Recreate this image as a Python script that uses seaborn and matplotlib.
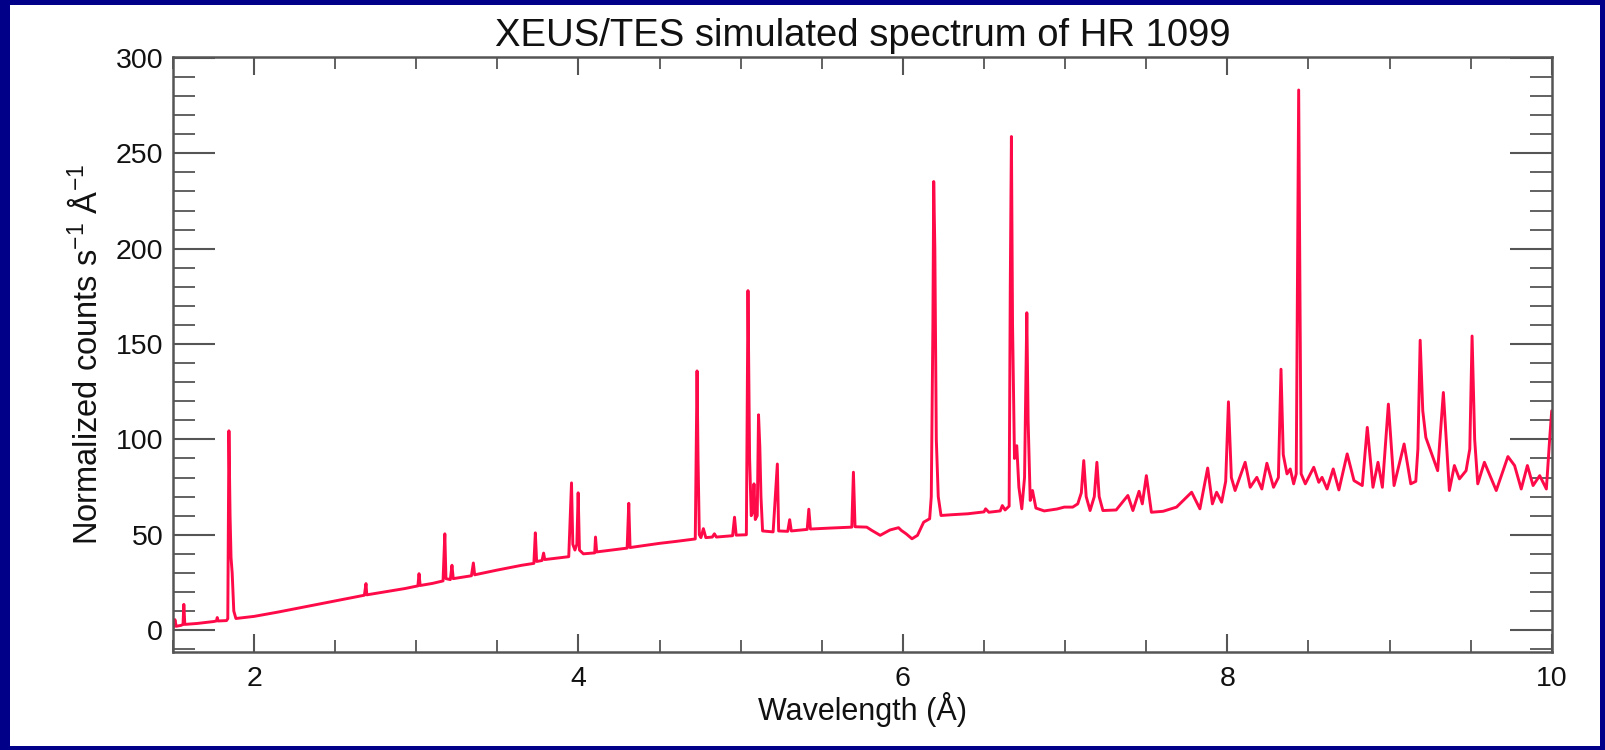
import numpy as np
import pandas as pd
import seaborn as sns
import matplotlib.pyplot as plt
from matplotlib.patches import Rectangle
from matplotlib.ticker import MultipleLocator

# Spectrum: wavelength (A) and normalized counts
wavelength = [
    1.49, 1.505, 1.512, 1.52, 1.55, 1.562, 1.567, 1.573, 1.65, 1.75,
    1.768, 1.773, 1.778, 1.83, 1.838, 1.845, 1.852, 1.858, 1.865, 1.875,
    1.888, 2.0, 2.15, 2.3, 2.45, 2.6, 2.68, 2.69, 2.695, 2.8,
    2.93, 3.01, 3.017, 3.024, 3.1, 3.165, 3.176, 3.183, 3.21, 3.22,
    3.228, 3.34, 3.352, 3.36, 3.5, 3.65, 3.725, 3.734, 3.742, 3.775,
    3.785, 3.792, 3.94, 3.957, 3.965, 3.978, 3.99, 3.998, 4.006, 4.03,
    4.1, 4.105, 4.112, 4.3, 4.31, 4.318, 4.5, 4.6, 4.72, 4.731,
    4.737, 4.745, 4.755, 4.77, 4.785, 4.825, 4.838, 4.85, 4.95, 4.962,
    4.972, 5.035, 5.045, 5.055, 5.065, 5.075, 5.082, 5.09, 5.102, 5.11,
    5.118, 5.125, 5.135, 5.2, 5.226, 5.234, 5.29, 5.302, 5.312, 5.41,
    5.42, 5.43, 5.55, 5.685, 5.695, 5.705, 5.777, 5.808, 5.86, 5.92,
    5.973, 5.99, 6.02, 6.056, 6.09, 6.128, 6.165, 6.175, 6.185, 6.19,
    6.197, 6.206, 6.218, 6.235, 6.3, 6.4, 6.5, 6.51, 6.53, 6.6,
    6.613, 6.63, 6.655, 6.662, 6.669, 6.676, 6.688, 6.702, 6.715, 6.733,
    6.75, 6.764, 6.772, 6.785, 6.799, 6.82, 6.871, 6.95, 6.995, 7.047,
    7.078, 7.1, 7.115, 7.13, 7.154, 7.18, 7.196, 7.21, 7.233, 7.315,
    7.387, 7.418, 7.456, 7.476, 7.501, 7.532, 7.604, 7.687, 7.78, 7.831,
    7.879, 7.908, 7.934, 7.965, 7.99, 8.007, 8.025, 8.048, 8.11, 8.141,
    8.182, 8.213, 8.244, 8.285, 8.315, 8.331, 8.345, 8.368, 8.388, 8.409,
    8.425, 8.44, 8.455, 8.481, 8.533, 8.564, 8.584, 8.615, 8.653, 8.688,
    8.739, 8.781, 8.832, 8.863, 8.898, 8.929, 8.956, 8.993, 9.028, 9.09,
    9.131, 9.162, 9.175, 9.189, 9.205, 9.224, 9.297, 9.332, 9.369, 9.4,
    9.431, 9.472, 9.495, 9.509, 9.525, 9.544, 9.585, 9.658, 9.73, 9.771,
    9.812, 9.85, 9.885, 9.926, 9.967, 9.988, 10.0,
]
counts = [
    0.5, 1.5, 5.5, 2.0, 2.5, 3.0, 13.5, 3.0, 3.5, 4.5,
    4.8, 6.6, 4.8, 5.0, 6.0, 104.5, 60.0, 38.0, 30.0, 10.0,
    6.1, 7.2, 9.5, 12.0, 14.5, 17.0, 18.3, 24.4, 18.5, 20.0,
    21.8, 23.2, 29.6, 23.4, 24.5, 25.8, 50.5, 27.0, 26.5, 34.0,
    27.0, 28.5, 35.2, 29.0, 31.5, 34.0, 35.0, 51.0, 36.0, 36.5,
    40.4, 37.0, 38.5, 77.2, 45.0, 42.0, 45.0, 72.0, 42.0, 40.0,
    40.5, 48.8, 41.0, 43.0, 66.5, 43.3, 45.5, 46.5, 47.8, 135.9,
    90.0, 50.0, 48.5, 53.2, 48.5, 48.8, 50.5, 48.8, 49.5, 59.2,
    49.8, 50.0, 178.0, 90.0, 60.0, 62.0, 76.7, 58.0, 60.0, 112.9,
    96.0, 70.0, 52.0, 51.5, 87.1, 52.0, 51.8, 57.9, 52.0, 52.8,
    63.4, 53.0, 53.5, 54.0, 82.8, 54.2, 54.0, 52.3, 49.7, 52.5,
    53.7, 52.3, 50.5, 47.9, 49.7, 56.6, 58.4, 70.0, 160.0, 235.2,
    200.0, 100.0, 70.0, 60.1, 60.5, 61.0, 62.0, 63.6, 61.8, 62.5,
    65.3, 63.0, 65.0, 180.0, 258.8, 160.0, 90.0, 96.7, 75.0, 63.6,
    80.0, 166.4, 110.0, 68.0, 73.2, 64.0, 62.5, 63.5, 64.5, 64.5,
    66.2, 72.0, 88.9, 70.0, 62.7, 70.0, 88.0, 70.0, 62.7, 63.0,
    70.6, 62.7, 72.8, 66.2, 81.0, 61.8, 62.3, 64.5, 72.3, 63.6,
    85.0, 66.2, 72.3, 67.1, 78.0, 119.7, 80.0, 73.2, 88.0, 74.9,
    80.1, 74.0, 87.5, 74.9, 80.0, 136.8, 92.0, 81.9, 84.5, 76.7,
    82.0, 283.2, 82.0, 76.7, 85.4, 77.5, 80.1, 74.0, 84.5, 73.5,
    92.4, 78.4, 75.8, 106.3, 74.9, 88.0, 74.9, 118.5, 75.8, 97.6,
    76.7, 78.0, 95.0, 152.0, 115.0, 101.0, 83.6, 124.6, 73.2, 86.3,
    79.3, 83.6, 95.0, 154.2, 100.0, 76.7, 88.0, 73.2, 91.0, 86.3,
    74.0, 86.3, 75.8, 81.0, 74.0, 101.0, 115.0,
]

title = "XEUS/TES simulated spectrum of HR 1099"
xlabel = "Wavelength (\u00c5)"
ylabel = "Normalized counts s$^{-1}$ \u00c5$^{-1}$"

sns.set_theme(style="ticks")
plt.rcParams["font.family"] = ["Liberation Sans", "DejaVu Sans"]
plt.rcParams["mathtext.fontset"] = "custom"
plt.rcParams["mathtext.rm"] = "Liberation Sans"

df = pd.DataFrame({"wavelength": wavelength, "counts": counts})

fig = plt.figure(figsize=(16.06, 7.5), dpi=100)
fig.patch.set_facecolor("#000088")
# white panel inside the navy frame
fig.add_artist(Rectangle((10 / 1606, 4 / 750), 1590 / 1606, 741 / 750,
                         transform=fig.transFigure, facecolor="white",
                         edgecolor="none", zorder=0))
ax = fig.add_axes([0.1077, 0.1311, 0.8585, 0.7929])
ax.set_facecolor("white")

sns.lineplot(data=df, x="wavelength", y="counts", ax=ax, sort=False,
             estimator=None, color="#ff0a48", lw=2.1)

ax.set_xlim(1.5, 10)
ax.set_ylim(-11.3, 300.5)
ax.xaxis.set_major_locator(MultipleLocator(2))
ax.xaxis.set_minor_locator(MultipleLocator(0.5))
ax.yaxis.set_major_locator(MultipleLocator(50))
ax.yaxis.set_minor_locator(MultipleLocator(10))

for s in ax.spines.values():
    s.set_color("#555555")
    s.set_linewidth(1.8)

ax.tick_params(which="both", direction="in", top=True, right=True,
               color="#555555", labelsize=20.5, labelcolor="#111111")
ax.tick_params(axis="x", which="major", length=13, width=1.5, pad=10)
ax.tick_params(axis="x", which="minor", length=8.5, width=1.3)
ax.tick_params(axis="y", which="major", length=30, width=1.5, pad=7)
ax.tick_params(axis="y", which="minor", length=16, width=1.3)

ax.set_title(title, fontsize=27.5, color="#111111", pad=8)
ax.set_xlabel(xlabel, fontsize=22, color="#111111", labelpad=0)
ax.set_ylabel(ylabel, fontsize=23.5, color="#111111", labelpad=8)

fig.savefig("out.png", dpi=100, facecolor=fig.get_facecolor())
